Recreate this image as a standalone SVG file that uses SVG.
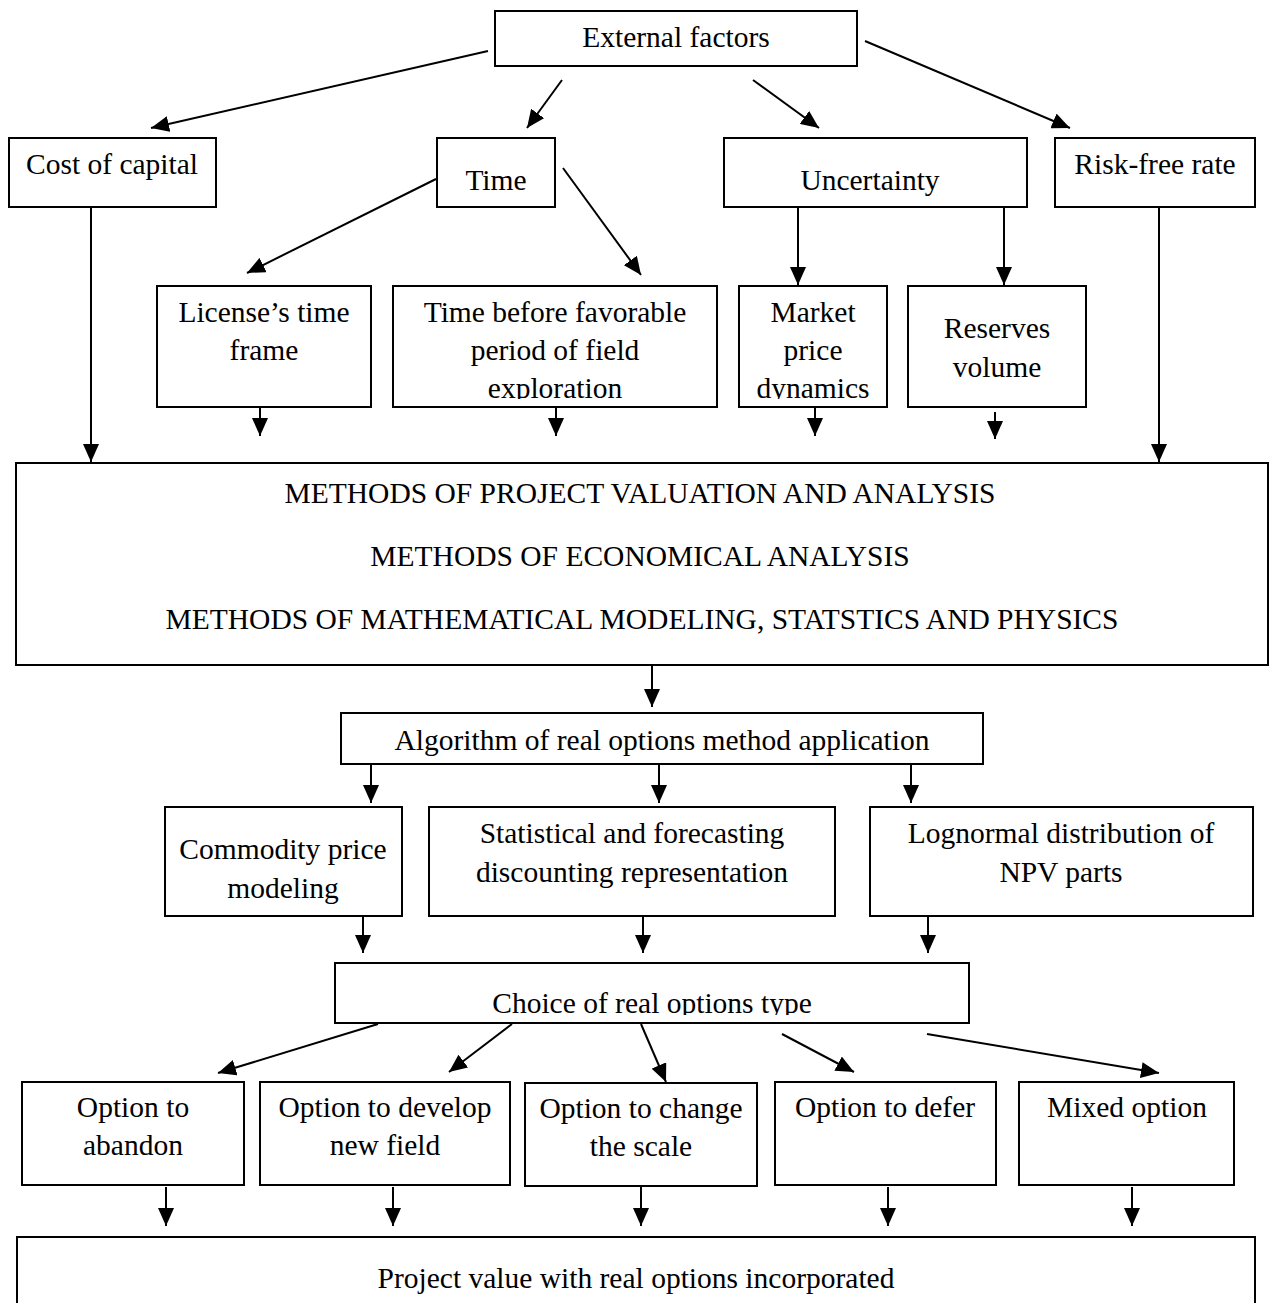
<svg xmlns="http://www.w3.org/2000/svg" width="1275" height="1303" viewBox="0 0 1275 1303">
  <style>
    .box { fill: #fff; stroke: #000; stroke-width: 2; }
    .t { font-family: "Liberation Serif", "Times New Roman", serif; font-size: 29.5px; fill: #000; text-anchor: middle; }
    .c { stroke: #000; stroke-width: 2; fill: none; }
    .a { marker-end: url(#arrow); }
  </style>
  <defs>
    <marker id="arrow" markerUnits="userSpaceOnUse" markerWidth="20" markerHeight="16" refX="18" refY="8" orient="auto">
      <path d="M0,0 L18,8 L0,16 Z" fill="#000"/>
    </marker>
    <clipPath id="clipTimeBefore"><rect x="393" y="286" width="324" height="113"/></clipPath>
    <clipPath id="clipMarket"><rect x="739" y="286" width="148" height="113"/></clipPath>
    <clipPath id="clipChoice"><rect x="335" y="963" width="634" height="52"/></clipPath>
  </defs>

  <!-- connectors -->
  <g id="connectors">
    <line class="c a" x1="488" y1="51" x2="151" y2="128"/>
    <line class="c a" x1="562" y1="80" x2="527" y2="128"/>
    <line class="c a" x1="753" y1="80" x2="819" y2="128"/>
    <line class="c a" x1="865" y1="41" x2="1070" y2="128"/>
    <line class="c a" x1="436" y1="179" x2="247" y2="273"/>
    <line class="c a" x1="563" y1="168" x2="641" y2="275"/>
    <line class="c a" x1="798" y1="207" x2="798" y2="285"/>
    <line class="c a" x1="1004" y1="207" x2="1004" y2="285"/>
    <line class="c a" x1="91" y1="207" x2="91" y2="462"/>
    <line class="c a" x1="1159" y1="207" x2="1159" y2="462"/>
    <line class="c a" x1="260" y1="408" x2="260" y2="436"/>
    <line class="c a" x1="556" y1="408" x2="556" y2="436"/>
    <line class="c a" x1="815" y1="408" x2="815" y2="436"/>
    <line class="c a" x1="995" y1="412" x2="995" y2="439"/>
    <line class="c a" x1="652" y1="665" x2="652" y2="707"/>
    <line class="c a" x1="371" y1="764" x2="371" y2="803"/>
    <line class="c a" x1="659" y1="764" x2="659" y2="803"/>
    <line class="c a" x1="911" y1="764" x2="911" y2="803"/>
    <line class="c a" x1="363" y1="916" x2="363" y2="953"/>
    <line class="c a" x1="643" y1="916" x2="643" y2="953"/>
    <line class="c a" x1="928" y1="916" x2="928" y2="953"/>
    <line class="c a" x1="378" y1="1024" x2="218" y2="1073"/>
    <line class="c a" x1="512" y1="1024" x2="449" y2="1072"/>
    <line class="c a" x1="641" y1="1024" x2="666" y2="1082"/>
    <line class="c a" x1="782" y1="1034" x2="854" y2="1072"/>
    <line class="c a" x1="927" y1="1034" x2="1159" y2="1073"/>
    <line class="c a" x1="166" y1="1187" x2="166" y2="1226"/>
    <line class="c a" x1="393" y1="1187" x2="393" y2="1226"/>
    <line class="c a" x1="641" y1="1187" x2="641" y2="1226"/>
    <line class="c a" x1="888" y1="1187" x2="888" y2="1226"/>
    <line class="c a" x1="1132" y1="1187" x2="1132" y2="1226"/>
  </g>

  <!-- top level -->
  <g id="external-factors">
    <rect class="box" x="495" y="11" width="362" height="55"/>
    <text class="t" x="676" y="47">External factors</text>
  </g>
  <g id="cost-of-capital">
    <rect class="box" x="9" y="138" width="207" height="69"/>
    <text class="t" x="112" y="174">Cost of capital</text>
  </g>
  <g id="time">
    <rect class="box" x="437" y="138" width="118" height="69"/>
    <text class="t" x="496" y="190">Time</text>
  </g>
  <g id="uncertainty">
    <rect class="box" x="724" y="138" width="303" height="69"/>
    <text class="t" x="870" y="190">Uncertainty</text>
  </g>
  <g id="risk-free-rate">
    <rect class="box" x="1055" y="138" width="200" height="69"/>
    <text class="t" x="1155" y="174">Risk-free rate</text>
  </g>

  <!-- second level -->
  <g id="license-time-frame">
    <rect class="box" x="157" y="286" width="214" height="121"/>
    <text class="t" x="264" y="322">License’s time</text>
    <text class="t" x="264" y="360">frame</text>
  </g>
  <g id="time-before-exploration">
    <rect class="box" x="393" y="286" width="324" height="121"/>
    <g clip-path="url(#clipTimeBefore)">
      <text class="t" x="555" y="322">Time before favorable</text>
      <text class="t" x="555" y="360">period of field</text>
      <text class="t" x="555" y="398">exploration</text>
    </g>
  </g>
  <g id="market-price-dynamics">
    <rect class="box" x="739" y="286" width="148" height="121"/>
    <g clip-path="url(#clipMarket)">
      <text class="t" x="813" y="322">Market</text>
      <text class="t" x="813" y="360">price</text>
      <text class="t" x="813" y="398">dynamics</text>
    </g>
  </g>
  <g id="reserves-volume">
    <rect class="box" x="908" y="286" width="178" height="121"/>
    <text class="t" x="997" y="338">Reserves</text>
    <text class="t" x="997" y="377">volume</text>
  </g>

  <!-- methods -->
  <g id="methods">
    <rect class="box" x="16" y="463" width="1252" height="202"/>
    <text class="t" x="640" y="503">METHODS OF PROJECT VALUATION AND ANALYSIS</text>
    <text class="t" x="640" y="566">METHODS OF ECONOMICAL ANALYSIS</text>
    <text class="t" x="642" y="629">METHODS OF MATHEMATICAL MODELING, STATSTICS AND PHYSICS</text>
  </g>

  <g id="algorithm">
    <rect class="box" x="341" y="713" width="642" height="51"/>
    <text class="t" x="662" y="750">Algorithm of real options method application</text>
  </g>

  <g id="commodity-price">
    <rect class="box" x="165" y="807" width="237" height="109"/>
    <text class="t" x="283" y="859">Commodity price</text>
    <text class="t" x="283" y="898">modeling</text>
  </g>
  <g id="statistical-forecasting">
    <rect class="box" x="429" y="807" width="406" height="109"/>
    <text class="t" x="632" y="843">Statistical and forecasting</text>
    <text class="t" x="632" y="882">discounting representation</text>
  </g>
  <g id="lognormal">
    <rect class="box" x="870" y="807" width="383" height="109"/>
    <text class="t" x="1061" y="843">Lognormal distribution of</text>
    <text class="t" x="1061" y="882">NPV parts</text>
  </g>

  <g id="choice">
    <rect class="box" x="335" y="963" width="634" height="60"/>
    <g clip-path="url(#clipChoice)">
      <text class="t" x="652" y="1013">Choice of real options type</text>
    </g>
  </g>

  <!-- option types -->
  <g id="option-abandon">
    <rect class="box" x="22" y="1082" width="222" height="103"/>
    <text class="t" x="133" y="1117">Option to</text>
    <text class="t" x="133" y="1155">abandon</text>
  </g>
  <g id="option-develop">
    <rect class="box" x="260" y="1082" width="250" height="103"/>
    <text class="t" x="385" y="1117">Option to develop</text>
    <text class="t" x="385" y="1155">new field</text>
  </g>
  <g id="option-change-scale">
    <rect class="box" x="525" y="1083" width="232" height="103"/>
    <text class="t" x="641" y="1118">Option to change</text>
    <text class="t" x="641" y="1156">the scale</text>
  </g>
  <g id="option-defer">
    <rect class="box" x="775" y="1082" width="221" height="103"/>
    <text class="t" x="885" y="1117">Option to defer</text>
  </g>
  <g id="option-mixed">
    <rect class="box" x="1019" y="1082" width="215" height="103"/>
    <text class="t" x="1127" y="1117">Mixed option</text>
  </g>

  <g id="project-value">
    <rect class="box" x="17" y="1237" width="1238" height="80"/>
    <text class="t" x="636" y="1288">Project value with real options incorporated</text>
  </g>
</svg>
